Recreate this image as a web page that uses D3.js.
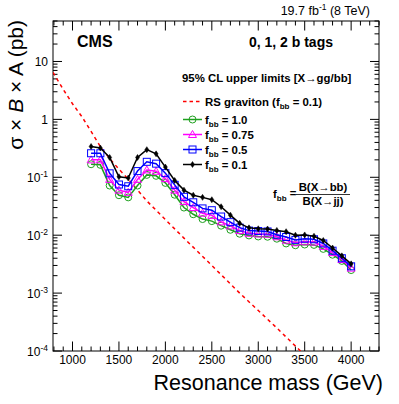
<!DOCTYPE html>
<html>
<head>
<meta charset="utf-8">
<script src="https://cdn.jsdelivr.net/npm/d3@7"></script>
<style>
  body { margin: 0; background: #fff; }
  svg { font-family: "Liberation Sans", Arial, Helvetica, sans-serif; }
</style>
</head>
<body>
<div id="chart"></div>
<script>
// resonance masses (GeV) of the limit points
const masses = [1200, 1300, 1400, 1500, 1600, 1700, 1800, 1900, 2000, 2100,
  2200, 2300, 2400, 2500, 2600, 2700, 2800, 2900, 3000, 3100,
  3200, 3300, 3400, 3500, 3600, 3700, 3800, 3900, 4000];

// 95% CL upper limits (pb) for each f_bb
const limitFbb10 = [0.168, 0.164, 0.072, 0.049, 0.045, 0.072, 0.110, 0.106, 0.080, 0.050,
  0.030, 0.023, 0.019, 0.0175, 0.0146, 0.0124, 0.0106, 0.0099, 0.0095, 0.0094,
  0.0087, 0.0072, 0.0067, 0.0069, 0.0068, 0.0058, 0.0046, 0.0036, 0.0025];
const limitFbb075 = [0.20, 0.20, 0.092, 0.060, 0.055, 0.092, 0.134, 0.127, 0.095, 0.060,
  0.038, 0.030, 0.024, 0.022, 0.017, 0.0145, 0.0120, 0.0108, 0.0105, 0.0104,
  0.0094, 0.0082, 0.0074, 0.0077, 0.0076, 0.0064, 0.0050, 0.0038, 0.0027];
const limitFbb05 = [0.26, 0.26, 0.117, 0.075, 0.070, 0.128, 0.185, 0.172, 0.118, 0.074,
  0.046, 0.037, 0.029, 0.027, 0.021, 0.0168, 0.0135, 0.0120, 0.0118, 0.0116,
  0.0102, 0.0093, 0.0083, 0.0087, 0.0085, 0.0072, 0.0054, 0.0040, 0.0029];
const limitFbb01 = [0.34, 0.32, 0.22, 0.102, 0.097, 0.22, 0.30, 0.254, 0.15, 0.088,
  0.060, 0.049, 0.045, 0.041, 0.031, 0.0222, 0.0160, 0.0134, 0.0129, 0.0128,
  0.0121, 0.0115, 0.0100, 0.0101, 0.0096, 0.0081, 0.0060, 0.0044, 0.0032];

// RS graviton cross section (f_bb = 0.1)
const rsMass = [790, 900, 1000, 1100, 1200, 1300, 1400, 1500, 1600, 1800,
  2000, 2200, 2500, 2800, 3000, 3200, 3500];
const rsXsec = [6.5, 3.3, 1.86, 1.12, 0.62, 0.34, 0.21, 0.138, 0.093, 0.039,
  0.0186, 0.0089, 0.0030, 0.0010, 5.0e-4, 2.5e-4, 8.5e-5];

const xTicks = [1000, 1500, 2000, 2500, 3000, 3500, 4000];
const yTickExps = [-4, -3, -2, -1, 0, 1];

const W = 399, H = 404;
const m = { left: 53, right: 379, top: 21, bottom: 351 };

const svg = d3.select("#chart").append("svg")
  .attr("width", W).attr("height", H);

const x = d3.scaleLinear().domain([790, 4300]).range([m.left, m.right]);
const y = d3.scaleLog().domain([1e-4, 50]).range([m.bottom, m.top]);

svg.append("defs").append("clipPath").attr("id", "plot-clip")
  .append("rect")
  .attr("x", m.left).attr("y", m.top)
  .attr("width", m.right - m.left).attr("height", m.bottom - m.top);

// frame
svg.append("rect")
  .attr("x", m.left).attr("y", m.top)
  .attr("width", m.right - m.left).attr("height", m.bottom - m.top)
  .attr("fill", "none").attr("stroke", "#000").attr("stroke-width", 1);

// x ticks (inside, bottom and top)
const xMinor = d3.range(800, 4301, 100);
const ticksG = svg.append("g").attr("stroke", "#000").attr("stroke-width", 1);
xMinor.forEach((v) => {
  const len = v % 500 === 0 ? 9.5 : 4.5;
  ticksG.append("line").attr("x1", x(v)).attr("x2", x(v))
    .attr("y1", m.bottom).attr("y2", m.bottom - len);
  ticksG.append("line").attr("x1", x(v)).attr("x2", x(v))
    .attr("y1", m.top).attr("y2", m.top + len);
});

// y ticks (log, inside, left and right)
for (let e = -4; e <= 1; e++) {
  for (let k = 1; k <= 9; k++) {
    const v = k * Math.pow(10, e);
    if (v > 50) break;
    const len = k === 1 ? 9 : 4.5;
    ticksG.append("line").attr("x1", m.left).attr("x2", m.left + len)
      .attr("y1", y(v)).attr("y2", y(v));
    ticksG.append("line").attr("x1", m.right).attr("x2", m.right - len)
      .attr("y1", y(v)).attr("y2", y(v));
  }
}

// x tick labels
svg.append("g").selectAll("text").data(xTicks).enter().append("text")
  .attr("x", (d) => x(d)).attr("y", 364)
  .attr("text-anchor", "middle")
  .style("font-size", "12px")
  .text((d) => d);

// y tick labels
yTickExps.forEach((e) => {
  const t = svg.append("text")
    .attr("x", 48).attr("y", y(Math.pow(10, e)) + 4.5)
    .attr("text-anchor", "end")
    .style("font-size", "12px");
  if (e === 0) t.text("1");
  else if (e === 1) t.text("10");
  else {
    t.text("10");
    t.append("tspan").attr("dy", -5).style("font-size", "8.5px").text(e);
  }
});

// axis titles
svg.append("text")
  .attr("x", 383).attr("y", 390)
  .attr("text-anchor", "end")
  .style("font-size", "21.5px")
  .text("Resonance mass (GeV)");

const yTitle = svg.append("text")
  .attr("transform", `translate(23, 20) rotate(-90)`)
  .attr("text-anchor", "end")
  .style("font-size", "21px");
yTitle.append("tspan").text("σ × ");
yTitle.append("tspan").style("font-style", "italic").text("B");
yTitle.append("tspan").text(" × A (pb)");

// lumi label
const lumi = svg.append("text")
  .attr("x", 370).attr("y", 15)
  .attr("text-anchor", "end")
  .style("font-size", "12.5px");
lumi.append("tspan").text("19.7 fb");
lumi.append("tspan").attr("dy", -5).style("font-size", "8.5px").text("-1");
lumi.append("tspan").attr("dy", 5).text(" (8 TeV)");

svg.append("text").attr("x", 77).attr("y", 47)
  .style("font-size", "16px").style("font-weight", "bold").text("CMS");
svg.append("text").attr("x", 333).attr("y", 47)
  .attr("text-anchor", "end")
  .style("font-size", "14px").style("font-weight", "bold").text("0, 1, 2 b tags");

// data
const plot = svg.append("g").attr("clip-path", "url(#plot-clip)");

const lineGen = d3.line().x((d) => x(d[0])).y((d) => y(d[1]));

plot.append("path")
  .datum(rsMass.map((mm, i) => [mm, rsXsec[i]]))
  .attr("fill", "none").attr("stroke", "#ff0000")
  .attr("stroke-width", 1.5).attr("stroke-dasharray", "3.5,3.5")
  .attr("d", lineGen);

const series = [
  { label: "1.0", vals: limitFbb10, color: "#1fa01f", marker: "circle" },
  { label: "0.75", vals: limitFbb075, color: "#ff00ff", marker: "triangle" },
  { label: "0.5", vals: limitFbb05, color: "#0000ff", marker: "square" },
  { label: "0.1", vals: limitFbb01, color: "#000000", marker: "diamond" },
];

function drawMarker(g, type, cx, cy, color) {
  if (type === "circle") {
    g.append("circle").attr("cx", cx).attr("cy", cy).attr("r", 3.5)
      .attr("fill", "none").attr("stroke", color).attr("stroke-width", 1);
  } else if (type === "triangle") {
    g.append("path")
      .attr("d", `M${cx},${cy - 4}L${cx + 4},${cy + 3}L${cx - 4},${cy + 3}Z`)
      .attr("fill", "none").attr("stroke", color).attr("stroke-width", 1);
  } else if (type === "square") {
    g.append("rect").attr("x", cx - 3.5).attr("y", cy - 3.5)
      .attr("width", 7).attr("height", 7)
      .attr("fill", "none").attr("stroke", color).attr("stroke-width", 1);
  } else {
    g.append("path")
      .attr("d", `M${cx},${cy - 3}L${cx + 2},${cy}L${cx},${cy + 3}L${cx - 2},${cy}Z`)
      .attr("fill", color).attr("stroke", color).attr("stroke-width", 0.5);
  }
}

series.forEach((s) => {
  const pts = masses.map((mm, i) => [mm, s.vals[i]]);
  plot.append("path").datum(pts)
    .attr("fill", "none").attr("stroke", s.color).attr("stroke-width", 1.5)
    .attr("d", lineGen);
  const mg = plot.append("g");
  pts.forEach((p) => drawMarker(mg, s.marker, x(p[0]), y(p[1]), s.color));
});

// legend
const leg = svg.append("g").style("font-size", "11.4px").style("font-weight", "bold");
leg.append("text").attr("x", 182).attr("y", 82).text("95% CL upper limits [X\u2192gg/bb]");

const lx0 = 183, lx1 = 202, ltx = 205;
leg.append("line").attr("x1", lx0).attr("x2", lx1).attr("y1", 101.5).attr("y2", 101.5)
  .attr("stroke", "#ff0000").attr("stroke-width", 1.5).attr("stroke-dasharray", "3.5,3");
const rsT = leg.append("text").attr("x", ltx).attr("y", 105.5);
rsT.append("tspan").text("RS graviton (f");
rsT.append("tspan").attr("dy", 3).style("font-size", "8px").text("bb");
rsT.append("tspan").attr("dy", -3).text(" = 0.1)");

const legY = [119.5, 134.5, 149.5, 164.5];
series.forEach((s, i) => {
  const cy = legY[i];
  leg.append("line").attr("x1", lx0).attr("x2", lx1).attr("y1", cy).attr("y2", cy)
    .attr("stroke", s.color).attr("stroke-width", 1.5);
  drawMarker(leg, s.marker, (lx0 + lx1) / 2, cy, s.color);
  const t = leg.append("text").attr("x", ltx).attr("y", cy + 4);
  t.append("tspan").text("f");
  t.append("tspan").attr("dy", 3).style("font-size", "8px").text("bb");
  t.append("tspan").attr("dy", -3).text(" = " + s.label);
});

// f_bb definition
const fdef = svg.append("g").style("font-size", "11.4px").style("font-weight", "bold");
const fT = fdef.append("text").attr("x", 273).attr("y", 198);
fT.append("tspan").text("f");
fT.append("tspan").attr("dy", 3).style("font-size", "8px").text("bb");
fT.append("tspan").attr("dy", -4).text(" =");
fdef.append("text").attr("x", 323).attr("y", 191).attr("text-anchor", "middle")
  .text("B(X\u2192bb)");
fdef.append("line").attr("x1", 296).attr("x2", 350).attr("y1", 194.5).attr("y2", 194.5)
  .attr("stroke", "#000").attr("stroke-width", 0.8);
fdef.append("text").attr("x", 323).attr("y", 205).attr("text-anchor", "middle")
  .text("B(X\u2192jj)");
</script>
</body>
</html>
